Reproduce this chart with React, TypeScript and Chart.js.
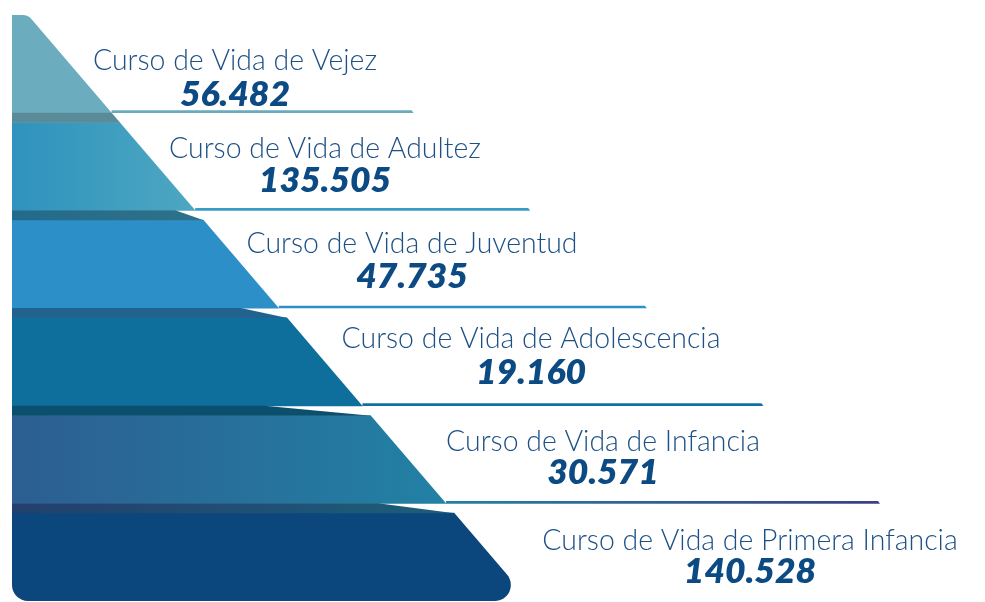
import React, { useEffect, useRef } from 'react';
import { Chart, registerables } from 'chart.js';

Chart.register(...registerables);

// ---- data ----
const categories = [
  'Curso de Vida de Vejez',
  'Curso de Vida de Adultez',
  'Curso de Vida de Juventud',
  'Curso de Vida de Adolescencia',
  'Curso de Vida de Infancia',
  'Curso de Vida de Primera Infancia',
];
const values = [56482, 135505, 47735, 19160, 30571, 140528];

// ---- styles / layout ----
const bandColors: (string | [string, string])[] = [
  '#6badbe',
  ['#2e93be', '#4ea7c1'],
  '#2d8fc8',
  '#0e6f9c',
  ['#2c5e92', '#2281a4'],
  '#0b477c',
];
const stripColors: (string | [string, string])[] = [
  '',
  '#5a8b99',
  ['#236a8b', '#2f7189'],
  '#22628f',
  '#0b4f6e',
  ['#233f6e', '#1c5e79'],
];
const lineColors: (string | [string, string])[] = [
  '#6aaabc',
  '#3a9cc6',
  '#2d8fc8',
  '#1071a0',
  ['#2280a3', '#3d3f85'],
];
const wedge = [0, 0, 20, 38, 98, 68];
const labelX = [223, 313, 400, 519, 591, 738]; // centre offsets from chart left
const titleDy = [6, -4, -6, -9, -4, -2];
const valueDy = [42, 30, 29, 27, 29, 31];

const SLANT = 0.856;
const SLANT_X0 = 16;
const STRIP = 10;

const fmt = (v: number) => String(v).replace(/\B(?=(\d{3})+(?!\d))/g, '.');

function paint(ctx: CanvasRenderingContext2D, s: string | [string, string], x1: number, x2: number) {
  if (typeof s === 'string') return s;
  const g = ctx.createLinearGradient(x1, 0, x2, 0);
  g.addColorStop(0, s[0]);
  g.addColorStop(1, s[1]);
  return g;
}

const pyramidPlugin = {
  id: 'pyramid',
  afterDatasetsDraw(chart: any) {
    const { ctx, chartArea: a } = chart;
    const y = chart.scales.y;
    const n = categories.length;
    const c = (i: number) => y.getPixelForValue(i);
    const half = (c(1) - c(0)) / 2;
    const L = a.left;
    const T = a.top;
    const B = a.bottom;
    const xs = (yy: number) => L + SLANT_X0 + SLANT * (yy - T);

    ctx.save();
    // bands
    for (let i = 0; i < n; i++) {
      const bTop = c(i) - half;
      const bBot = i === n - 1 ? B : c(i) + half;
      const bodyTop = i === 0 ? bTop : bTop + STRIP;
      ctx.beginPath();
      if (i === 0) {
        ctx.moveTo(L, bodyTop);
        ctx.arcTo(xs(bodyTop), bodyTop, xs(bBot), bBot, 12);
        ctx.lineTo(xs(bBot + 0.5), bBot + 0.5);
        ctx.lineTo(L, bBot + 0.5);
      } else if (i === n - 1) {
        ctx.moveTo(L, bodyTop - 0.5);
        ctx.lineTo(xs(bodyTop - 0.5), bodyTop - 0.5);
        ctx.arcTo(xs(bBot), bBot, L, bBot, 16);
        ctx.arcTo(L, bBot, L, bodyTop, 16);
      } else {
        ctx.moveTo(L, bodyTop - 0.5);
        ctx.lineTo(xs(bodyTop - 0.5), bodyTop - 0.5);
        ctx.lineTo(xs(bBot + 0.5), bBot + 0.5);
        ctx.lineTo(L, bBot + 0.5);
      }
      ctx.closePath();
      ctx.fillStyle = paint(ctx, bandColors[i], L, xs(bBot));
      ctx.fill();

      if (i > 0) {
        const s2 = bTop + STRIP;
        ctx.beginPath();
        ctx.moveTo(L, bTop);
        ctx.lineTo(xs(bTop) - wedge[i], bTop);
        ctx.lineTo(xs(s2), s2);
        ctx.lineTo(L, s2);
        ctx.closePath();
        ctx.fillStyle = paint(ctx, stripColors[i], L, xs(s2));
        ctx.fill();
      }
    }

    // underlines
    for (let i = 0; i < n - 1; i++) {
      const yy = c(i) + half - 1;
      const x1 = xs(yy + 1);
      const x2 = x1 + 302 + 33 * i;
      ctx.beginPath();
      ctx.moveTo(x1, yy - 1.3);
      ctx.lineTo(x2 - 2, yy - 1.3);
      ctx.lineTo(x2, yy + 1.3);
      ctx.lineTo(x1, yy + 1.3);
      ctx.closePath();
      ctx.fillStyle = paint(ctx, lineColors[i], x1, x2);
      ctx.fill();
    }

    // texts
    ctx.textAlign = 'center';
    ctx.textBaseline = 'alphabetic';
    ctx.font = '300 30px Lato';
    const tsx = 284 / ctx.measureText(categories[0]).width;
    ctx.fillStyle = '#1d5085';
    for (let i = 0; i < n; i++) {
      ctx.save();
      ctx.translate(L + labelX[i], c(i) + titleDy[i]);
      ctx.scale(tsx, 1);
      ctx.fillText(categories[i], 0, 0);
      ctx.restore();
    }
    ctx.font = 'italic 800 34px Lato';
    const vsx = 110 / ctx.measureText(fmt(values[0])).width;
    ctx.fillStyle = '#0c4a84';
    for (let i = 0; i < n; i++) {
      ctx.save();
      ctx.translate(L + labelX[i], c(i) + valueDy[i]);
      ctx.scale(vsx, 1);
      ctx.fillText(fmt(values[i]), 0, 0);
      ctx.restore();
    }
    ctx.restore();
  },
};

export default function App() {
  const ref = useRef<HTMLCanvasElement>(null);
  useEffect(() => {
    if (!ref.current) return;
    const chart = new Chart(ref.current, {
      type: 'bar',
      data: {
        labels: categories,
        datasets: [
          {
            data: values,
            backgroundColor: 'rgba(0,0,0,0)',
            borderWidth: 0,
          },
        ],
      },
      options: {
        indexAxis: 'y',
        responsive: false,
        animation: false,
        layout: { padding: { left: 12, top: 15, right: 0, bottom: 1 } },
        scales: {
          x: { display: false, min: 0, max: 1000000 },
          y: { display: false },
        },
        plugins: { legend: { display: false }, tooltip: { enabled: false } },
      },
      plugins: [pyramidPlugin],
    });
    return () => chart.destroy();
  }, []);
  return (
    <div style={{ position: 'absolute', left: 0, top: 0, width: 985, height: 602, background: '#fff' }}>
      <canvas ref={ref} width={985} height={602} style={{ display: 'block' }} />
    </div>
  );
}
